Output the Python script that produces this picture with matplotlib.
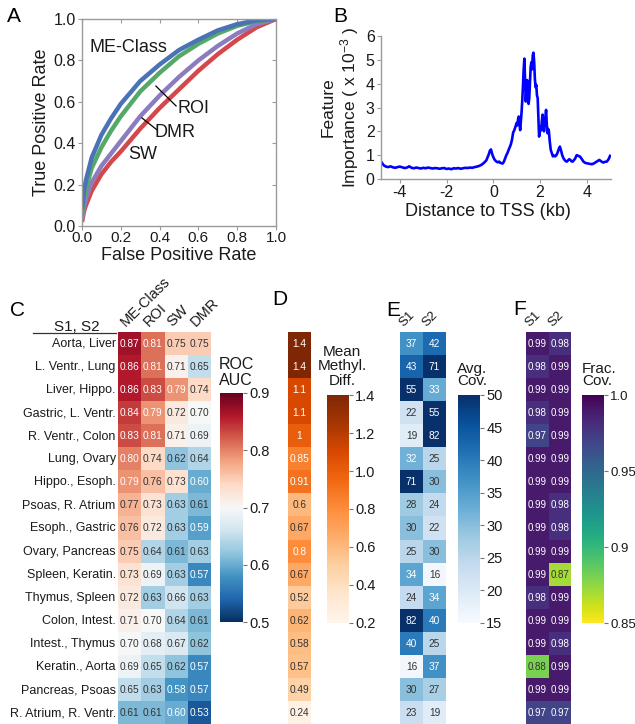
import matplotlib
matplotlib.use('Agg')
import matplotlib.pyplot as plt
import numpy as np
from matplotlib.lines import Line2D

plt.rcParams['font.family'] = ['Liberation Sans', 'DejaVu Sans']
plt.rcParams['mathtext.fontset'] = 'custom'
plt.rcParams['mathtext.rm'] = 'Liberation Sans'
plt.rcParams['mathtext.it'] = 'Liberation Sans:italic'
plt.rcParams['mathtext.default'] = 'regular'
plt.rcParams['axes.unicode_minus'] = False

# ---------------- data ----------------
fpr = [0, 0.01, 0.02, 0.05, 0.1, 0.15, 0.2, 0.3, 0.4, 0.5, 0.6, 0.7, 0.8, 0.9, 1.0]
tpr_meclass = [0.08, 0.17, 0.22, 0.33, 0.44, 0.52, 0.59, 0.70, 0.78, 0.85, 0.90, 0.945, 0.975, 0.993, 1.0]
tpr_roi = [0.06, 0.13, 0.18, 0.28, 0.38, 0.46, 0.53, 0.65, 0.74, 0.82, 0.88, 0.93, 0.967, 0.99, 1.0]
tpr_dmr = [0.03, 0.09, 0.13, 0.21, 0.29, 0.35, 0.41, 0.53, 0.63, 0.72, 0.80, 0.87, 0.93, 0.975, 1.0]
tpr_sw = [0.02, 0.07, 0.10, 0.17, 0.25, 0.31, 0.36, 0.47, 0.57, 0.66, 0.75, 0.83, 0.90, 0.96, 1.0]

dist_kb = [-4.8, -4.7, -4.6, -4.5, -4.4, -4.3, -4.2, -4.1, -4.0, -3.9, -3.8, -3.7, -3.6, -3.5, -3.4,
           -3.3, -3.2, -3.1, -3.0, -2.9, -2.8, -2.7, -2.6, -2.5, -2.4, -2.3, -2.2, -2.1, -2.0, -1.9,
           -1.8, -1.7, -1.6, -1.5, -1.4, -1.3, -1.2, -1.1, -1.0, -0.9, -0.8, -0.7,
           -0.6, -0.5, -0.4, -0.3, -0.25, -0.2, -0.15, -0.1, -0.05, 0.0, 0.05, 0.1, 0.15, 0.2, 0.25,
           0.3, 0.35, 0.4, 0.45, 0.5, 0.55, 0.6, 0.65, 0.7, 0.75, 0.8, 0.85, 0.9, 0.95, 1.0,
           1.03, 1.06, 1.09, 1.12, 1.15, 1.18, 1.21, 1.24, 1.27, 1.30, 1.33, 1.36, 1.39, 1.42, 1.45,
           1.48, 1.51, 1.54, 1.57, 1.60, 1.63, 1.66, 1.69, 1.72, 1.75, 1.78, 1.81, 1.84, 1.87, 1.90,
           1.93, 1.96, 1.99, 2.02, 2.05, 2.08, 2.11, 2.14, 2.17, 2.20, 2.23, 2.26, 2.29, 2.32, 2.35,
           2.38, 2.42, 2.46, 2.50, 2.55, 2.60, 2.65, 2.70, 2.75, 2.80, 2.85, 2.90, 2.95, 3.00, 3.05,
           3.10, 3.15, 3.20, 3.25, 3.30, 3.35, 3.40, 3.50, 3.57, 3.64, 3.71, 3.78, 3.86, 3.93, 4.00,
           4.10, 4.22, 4.30, 4.43, 4.54, 4.62, 4.71, 4.78, 4.86, 4.93, 5.00]
importance = [0.72, 0.58, 0.52, 0.50, 0.53, 0.49, 0.47, 0.50, 0.52, 0.49, 0.46, 0.48, 0.53, 0.47, 0.45,
              0.48, 0.46, 0.44, 0.47, 0.45, 0.48, 0.46, 0.44, 0.46, 0.45, 0.43, 0.45, 0.46, 0.42, 0.44,
              0.41, 0.45, 0.44, 0.46, 0.43, 0.45, 0.47, 0.46, 0.48, 0.47, 0.50, 0.52,
              0.55, 0.60, 0.68, 0.78, 0.90, 1.02, 1.18, 1.24, 1.05, 0.92, 0.82, 0.76, 0.72, 0.70, 0.73,
              0.68, 0.66, 0.65, 0.72, 0.85, 0.98, 1.08, 1.20, 1.32, 1.45, 1.65, 1.95, 2.05, 2.20, 2.35,
              2.25, 2.50, 2.62, 2.35, 2.05, 2.40, 2.80, 3.30, 3.90, 4.60, 5.05, 4.20, 3.25, 3.70, 4.15,
              3.60, 3.15, 3.40, 4.10, 4.70, 4.90, 4.60, 5.20, 5.30, 4.90, 4.20, 3.85, 3.95, 3.50, 3.40,
              2.60, 1.78, 1.95, 2.20, 2.05, 2.45, 2.70, 2.30, 2.00, 2.40, 2.60, 2.90, 2.30, 1.92, 2.10,
              2.00, 1.55, 1.22, 1.10, 0.95, 0.98, 0.95, 1.00, 1.10, 1.25, 1.36, 1.20, 1.00, 0.88, 0.80,
              0.75, 0.73, 0.78, 0.83, 0.80, 0.74, 0.73, 0.85, 1.00, 0.97, 0.94, 0.85, 0.73, 0.68, 0.66,
              0.64, 0.62, 0.65, 0.73, 0.80, 0.74, 0.69, 0.72, 0.73, 0.82, 0.97]

pairs = ["Aorta, Liver", "L. Ventr., Lung", "Liver, Hippo.", "Gastric, L. Ventr.",
         "R. Ventr., Colon", "Lung, Ovary", "Hippo., Esoph.", "Psoas, R. Atrium",
         "Esoph., Gastric", "Ovary, Pancreas", "Spleen, Keratin.", "Thymus, Spleen",
         "Colon, Intest.", "Intest., Thymus", "Keratin., Aorta", "Pancreas, Psoas",
         "R. Atrium, R. Ventr."]
method_labels = ["ME-Class", "ROI", "SW", "DMR"]
auc_meclass = [0.87, 0.86, 0.86, 0.84, 0.83, 0.80, 0.79, 0.77, 0.76, 0.75, 0.73, 0.72, 0.71, 0.70, 0.69, 0.65, 0.61]
auc_roi = [0.81, 0.81, 0.83, 0.79, 0.81, 0.74, 0.76, 0.73, 0.72, 0.64, 0.69, 0.63, 0.70, 0.68, 0.65, 0.63, 0.61]
auc_sw = [0.75, 0.71, 0.79, 0.72, 0.71, 0.62, 0.73, 0.63, 0.63, 0.61, 0.63, 0.66, 0.64, 0.67, 0.62, 0.58, 0.60]
auc_dmr = [0.75, 0.65, 0.74, 0.70, 0.69, 0.64, 0.60, 0.61, 0.59, 0.63, 0.57, 0.63, 0.61, 0.62, 0.57, 0.57, 0.53]
methyl_diff = [1.4, 1.4, 1.1, 1.1, 1.0, 0.85, 0.91, 0.6, 0.67, 0.8, 0.67, 0.52, 0.62, 0.58, 0.57, 0.49, 0.24]
sample_labels = ["S1", "S2"]
avgcov_s1 = [37, 43, 55, 22, 19, 32, 71, 28, 30, 25, 34, 24, 82, 40, 16, 30, 23]
avgcov_s2 = [42, 71, 33, 55, 82, 25, 30, 24, 22, 30, 16, 34, 40, 25, 37, 27, 19]
fraccov_s1 = [0.99, 0.98, 0.99, 0.98, 0.97, 0.99, 0.99, 0.99, 0.99, 0.99, 0.99, 0.98, 0.99, 0.99, 0.88, 0.99, 0.97]
fraccov_s2 = [0.98, 0.99, 0.99, 0.99, 0.99, 0.99, 0.99, 0.98, 0.98, 0.99, 0.87, 0.99, 0.99, 0.98, 0.99, 0.99, 0.97]

# ---------------- layout helpers ----------------
W, H = 635, 724
fig = plt.figure(figsize=(W / 100, H / 100), dpi=100)
TXT = '#1a1a1a'
SPC = '#9a9a9a'


def px_axes(l, t, r, b):
    return fig.add_axes([l / W, 1 - b / H, (r - l) / W, (b - t) / H])


def ftext(x, y, s, **kw):
    kw.setdefault('color', TXT)
    return fig.text(x / W, 1 - y / H, s, **kw)


# ---------------- Panel A ----------------
axA = px_axes(82, 19, 276, 226)
colors = {'ME-Class': '#4a72b6', 'ROI': '#55a868', 'DMR': '#8b7cc0', 'SW': '#d4474a'}
axA.plot(fpr, tpr_sw, color=colors['SW'], lw=3.2, solid_capstyle='butt')
axA.plot(fpr, tpr_dmr, color=colors['DMR'], lw=3.2, solid_capstyle='butt')
axA.plot(fpr, tpr_roi, color=colors['ROI'], lw=3.2, solid_capstyle='butt')
axA.plot(fpr, tpr_meclass, color=colors['ME-Class'], lw=3.2, solid_capstyle='butt')
axA.set_xlim(0, 1)
axA.set_ylim(0, 1)
ticks = [0, 0.2, 0.4, 0.6, 0.8, 1.0]
axA.set_xticks(ticks, [f"{t:.1f}" for t in ticks])
axA.set_yticks(ticks, [f"{t:.1f}" for t in ticks])
for sp in axA.spines.values():
    sp.set_color(SPC)
    sp.set_linewidth(1.0)
axA.tick_params(labelsize=11.5, length=3, width=0.8, color=SPC, labelcolor=TXT, pad=1.5)
axA.tick_params(axis='x', labelsize=11, pad=0.8)
secx = axA.secondary_xaxis('top')
secx.set_xticks(ticks)
secx.tick_params(direction='in', length=3, width=0.8, color=SPC, labeltop=False)
secx.spines['top'].set_visible(False)
secy = axA.secondary_yaxis('right')
secy.set_yticks(ticks)
secy.tick_params(direction='in', length=3, width=0.8, color=SPC, labelright=False)
secy.spines['right'].set_visible(False)
axA.text(0.041, 0.86, "ME-Class", fontsize=13, color=TXT, va='center', ha='left')
axA.text(0.49, 0.57, "ROI", fontsize=13, color=TXT, va='center', ha='left')
axA.text(0.376, 0.454, "DMR", fontsize=13, color=TXT, va='center', ha='left')
axA.text(0.237, 0.343, "SW", fontsize=13, color=TXT, va='center', ha='left')
axA.plot([0.381, 0.485], [0.676, 0.58], color='black', lw=0.9)
axA.plot([0.309, 0.387], [0.522, 0.464], color='black', lw=0.9)
ftext(42, 122, "True Positive Rate", fontsize=13, rotation=90, ha='center', va='center')
ftext(179, 256, "False Positive Rate", fontsize=13, ha='center', va='center')

# ---------------- Panel B ----------------
axB = px_axes(381, 36, 611, 179)
axB.plot(dist_kb, importance, color='#0000ff', lw=1.9)
axB.set_xlim(-4.81, 5.04)
axB.set_ylim(0, 6)
axB.set_xticks([-4, -2, 0, 2, 4])
axB.set_yticks([0, 1, 2, 3, 4, 5, 6])
for s in ['top', 'right']:
    axB.spines[s].set_visible(False)
for s in ['left', 'bottom']:
    axB.spines[s].set_color(SPC)
    axB.spines[s].set_linewidth(1.0)
axB.tick_params(labelsize=11.5, length=3, width=0.8, color=SPC, labelcolor=TXT, pad=1.5)
ftext(340.5, 107, "Feature\nImportance ( x 10$^{-3}$ )", fontsize=12.5, rotation=90,
      ha='center', va='center', multialignment='center', linespacing=1.15)
ftext(487.7, 211, "Distance to TSS (kb)", fontsize=13, ha='center', va='center')

# ---------------- heatmaps ----------------
ROW_T, ROW_B = 331.8, 724.2
nrow = len(pairs)
DARK = '#333333'


def heat(l, r, cols, cmap, vmin, vmax, fmt, white_fn, fs):
    ax = px_axes(l, ROW_T, r, ROW_B)
    data = np.column_stack(cols)
    ncol = data.shape[1]
    m = ax.pcolormesh(np.arange(ncol + 1), np.arange(nrow + 1), data, cmap=cmap,
                      vmin=vmin, vmax=vmax, edgecolors='none')
    ax.set_xlim(0, ncol)
    ax.set_ylim(nrow, 0)
    for i in range(nrow):
        for j in range(ncol):
            v = data[i, j]
            ax.text(j + 0.5, i + 0.52, fmt(v), ha='center', va='center', fontsize=fs,
                    color='white' if white_fn(v) else DARK)
    for sp in ax.spines.values():
        sp.set_visible(False)
    ax.set_xticks([])
    ax.set_yticks([])
    return ax, m


def cbar(m, l, t, r, b, ticks, labels, fs=10.5):
    cax = px_axes(l, t, r, b)
    cb = fig.colorbar(m, cax=cax)
    cb.outline.set_visible(False)
    cb.set_ticks(ticks, labels=labels)
    cax.tick_params(labelsize=fs, length=3, width=0.8, color='#777777', labelcolor=TXT, pad=1.5)
    return cb


# Panel C
axC, mC = heat(118, 211, [auc_meclass, auc_roi, auc_sw, auc_dmr], 'RdBu_r', 0.5, 0.9,
               lambda v: f"{v:.2f}", lambda v: v >= 0.785 or v <= 0.605, 7.3)
for i, lab in enumerate(pairs):
    axC.text(-0.1, i + 0.52, lab, ha='right', va='center', fontsize=9, color=TXT)
for j, lab in enumerate(method_labels):
    axC.text(j + 0.42, -0.1, lab, rotation=45, rotation_mode='anchor', ha='left', va='bottom',
             fontsize=10.5, color=TXT)
ftext(77, 331, "S1, S2", fontsize=11, ha='center', va='baseline')
fig.add_artist(Line2D([33 / W, 116 / W], [1 - 333 / H, 1 - 333 / H], color='#333333', lw=0.9))
cbar(mC, 220, 393, 243, 622, [0.5, 0.6, 0.7, 0.8, 0.9], ["0.5", "0.6", "0.7", "0.8", "0.9"])
ftext(219, 388, "ROC\nAUC", fontsize=11.5, ha='left', va='bottom', linespacing=1.1)

# Panel D
axD, mD = heat(288, 311, [methyl_diff], 'Oranges', 0.2, 1.4,
               lambda v: f"{v:g}", lambda v: v >= 0.8, 7.3)
cbar(mD, 327, 395, 349, 623, [0.2, 0.4, 0.6, 0.8, 1.0, 1.2, 1.4],
     ["0.2", "0.4", "0.6", "0.8", "1.0", "1.2", "1.4"])
ftext(342, 388, "Mean\nMethyl.\nDiff.", fontsize=11, ha='center', va='bottom', linespacing=1.05)

# Panel E
axE, mE = heat(400, 446, [avgcov_s1, avgcov_s2], 'Blues', 15, 50,
               lambda v: f"{int(v)}", lambda v: v >= 31, 7.3)
for j, lab in enumerate(sample_labels):
    axE.text(j + 0.25, -0.1, lab, rotation=45, rotation_mode='anchor', ha='left', va='bottom',
             fontsize=9.5, color=TXT)
cbar(mE, 458, 395, 480, 623, [15, 20, 25, 30, 35, 40, 45, 50],
     ["15", "20", "25", "30", "35", "40", "45", "50"])
ftext(457, 388, "Avg.\nCov.", fontsize=11, ha='left', va='bottom', linespacing=0.85)

# Panel F
axF, mF = heat(526, 571, [fraccov_s1, fraccov_s2], 'viridis_r', 0.85, 1.0,
               lambda v: f"{v:.2f}", lambda v: v >= 0.9, 7.0)
for j, lab in enumerate(sample_labels):
    axF.text(j + 0.25, -0.1, lab, rotation=45, rotation_mode='anchor', ha='left', va='bottom',
             fontsize=9.5, color=TXT)
cbar(mF, 582, 395, 604, 623, [0.85, 0.9, 0.95, 1.0], ["0.85", "0.9", "0.95", "1.0"], fs=9.5)
ftext(582, 388, "Frac.\nCov.", fontsize=11, ha='left', va='bottom', linespacing=0.85)

# ---------------- panel letters ----------------
for x, y, s in [(7, 22, 'A'), (333, 22, 'B'), (10, 316, 'C'), (272, 305, 'D'),
                (386, 316, 'E'), (513, 315, 'F')]:
    ftext(x, y, s, fontsize=15, ha='left', va='baseline', color='black')

fig.savefig('out.png', dpi=100)
